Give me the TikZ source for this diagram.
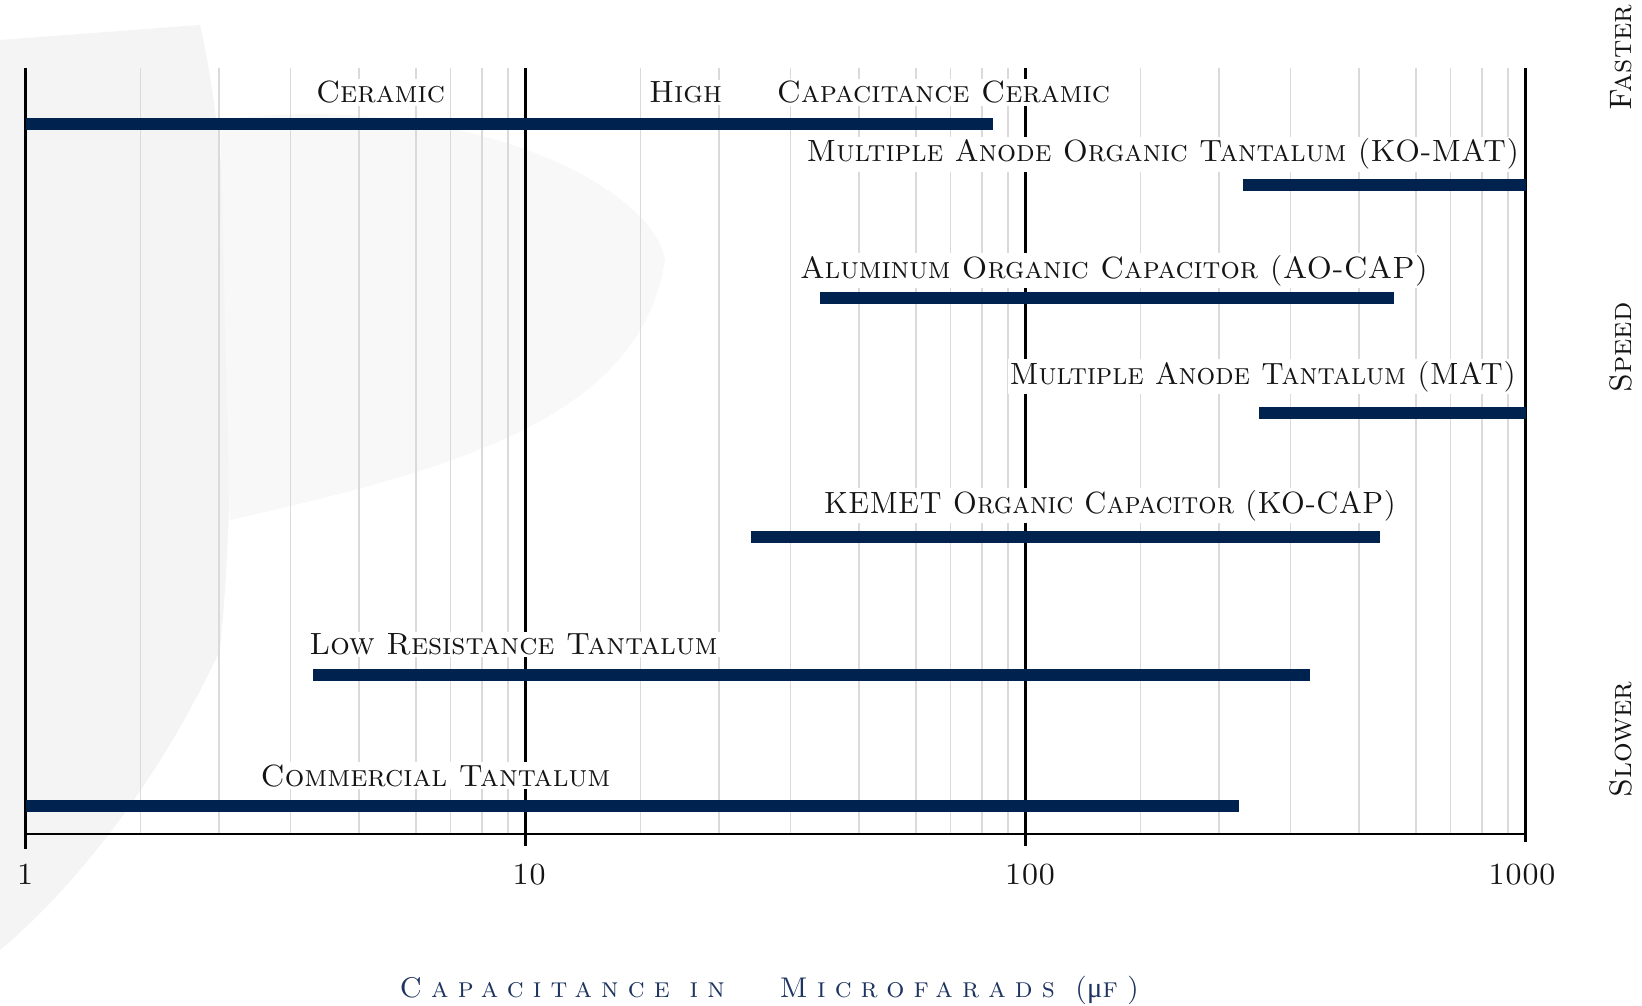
\documentclass[tikz,border=0pt]{standalone}
\usepackage{graphicx}
\usepackage{fontspec}
\newfontfamily\capsfont{lmromancaps10-regular.otf}
\newfontfamily\titlecaps[LetterSpace=32]{lmromancaps10-regular.otf}
\newfontfamily\greekserif{Liberation Serif}
\definecolor{barnavy}{RGB}{0,34,78}
\definecolor{titlenavy}{RGB}{30,52,96}
\definecolor{gridgray}{RGB}{220,218,216}
\definecolor{inkblack}{RGB}{20,20,20}
\definecolor{wmA}{RGB}{244,244,244}
\definecolor{wmB}{RGB}{248,248,248}
\newcommand\lblfont{\capsfont\fontsize{30.7}{36}\selectfont}
\newcommand\sidefont{\capsfont\fontsize{31}{36}\selectfont}
\newcommand\ttlfont{\titlecaps\fontsize{28.5}{34}\selectfont}
\newcommand\hsq[2]{\scalebox{#1}[1]{#2}}
\begin{document}
\begin{tikzpicture}[x=1pt,y=-1pt,
  gridline/.style={draw=gridgray,line width=1.3pt},
  majorline/.style={draw=black,line width=2.2pt},
  bar/.style={fill=barnavy},
  lbl/.style={fill=white,inner sep=2pt,text=inkblack,font=\lblfont,anchor=base},
  ticklbl/.style={inner sep=0pt,text=inkblack,font=\lblfont,anchor=base},
  sidelbl/.style={inner sep=0pt,text=inkblack,font=\sidefont,anchor=base,rotate=90},
  ttl/.style={inner sep=0pt,text=titlenavy,font=\ttlfont,anchor=base}]
\useasboundingbox (0,0) rectangle (1642,1006);
\fill[white] (0,0) rectangle (1642,1006);
% faint watermark
\fill[wmA] (0,40) -- (200,25) .. controls (240,200) and (235,500) .. (220,650)
  .. controls (150,800) and (60,900) .. (0,950) -- cycle;
\fill[wmB] (220,120) .. controls (450,90) and (650,180) .. (665,260)
  .. controls (640,420) and (450,470) .. (230,520) -- cycle;
% minor grid
\foreach \d in {0,1,2}{
  \foreach \f in {0.23,0.387,0.53,0.667,0.781,0.85,0.913,0.965}{
    \draw[gridline] ({25.5+500*(\d+\f)},68) -- ({25.5+500*(\d+\f)},834);
  }
}
% major lines and axis
\draw[majorline] (25.5,68) -- (25.5,849);
\draw[majorline] (525.5,68) -- (525.5,846);
\draw[majorline] (1025.5,68) -- (1025.5,846);
\draw[majorline] (1525.5,68) -- (1525.5,842);
\draw[majorline] (24.4,834) -- (1526.6,834);
% bars
\fill[bar] (25.5,118) rectangle (993,130);
\fill[bar] (1243,179.4) rectangle (1525.5,191.4);
\fill[bar] (820,292.4) rectangle (1394,304.4);
\fill[bar] (1258.7,406.6) rectangle (1525.5,418.6);
\fill[bar] (750.8,531.2) rectangle (1380,543.2);
\fill[bar] (313,669.4) rectangle (1310,681.4);
\fill[bar] (25.5,800.3) rectangle (1238.5,812.3);
% bar labels
\node[lbl] (ceramic) at (380.5,103) {Ceramic};
\node[lbl] (high) at (685.5,103) {High};
\node[lbl] (hcc) at (943.5,103) {Capacitance Ceramic};
\node[lbl] (komat) at (1163,162) {\hsq{0.973}{Multiple Anode Organic Tantalum (KO-MAT)}};
\node[lbl] (aocap) at (1114,278) {\hsq{0.988}{Aluminum Organic Capacitor (AO-CAP)}};
\node[lbl] (mat) at (1262.8,384) {\hsq{0.956}{Multiple Anode Tantalum (MAT)}};
\node[lbl] (kocap) at (1110,513) {\hsq{0.938}{KEMET Organic Capacitor (KO-CAP)}};
\node[lbl] (lowres) at (513.5,654.5) {Low Resistance Tantalum};
\node[lbl] (commercial) at (435.5,786) {Commercial Tantalum};
% tick labels
\node[ticklbl] (t1) at (25,884) {1};
\node[ticklbl] (t10) at (529,884) {10};
\node[ticklbl] (t100) at (1030,884) {100};
\node[ticklbl] (t1000) at (1522,884) {1000};
% side labels
\node[sidelbl] (faster) at (1631,57.6) {Faster};
\node[sidelbl] (speed) at (1631,347.7) {Speed};
\node[sidelbl] (slower) at (1631,739.3) {Slower};
% axis title
\node[ttl] (title) at (769.5,997) {Capacitance in\hspace{55pt}Microfarads ({\greekserif μ}f)};
\end{tikzpicture}
\end{document}
